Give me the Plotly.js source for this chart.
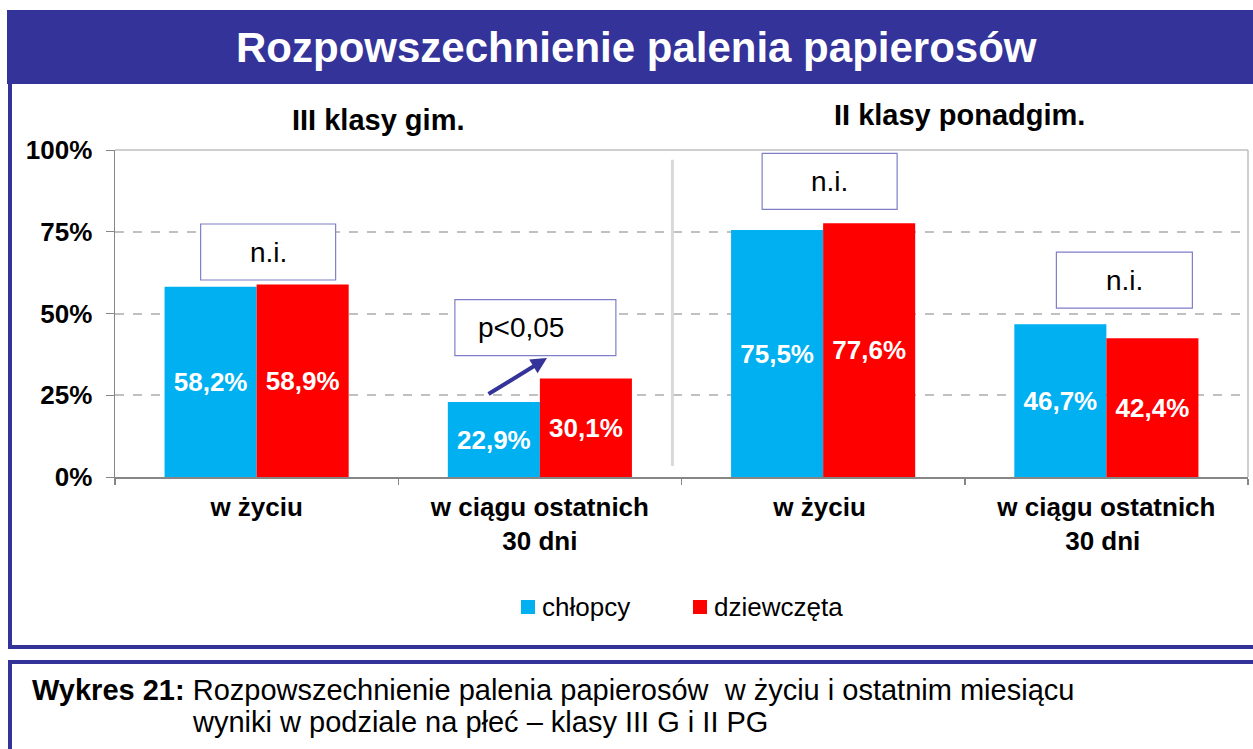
<!DOCTYPE html>
<html><head><meta charset="utf-8">
<script src="https://cdn.plot.ly/plotly-3.0.1.min.js"></script>
<style>html,body{margin:0;padding:0;background:#fff}#c{width:1253px;height:749px}</style>
</head><body><div id="c"></div>
<script>
const categories = ['w życiu', 'w ciągu ostatnich<br>30 dni', 'w życiu ', 'w ciągu ostatnich<br>30 dni '];
const boys = [58.2, 22.9, 75.5, 46.7];
const girls = [58.9, 30.1, 77.6, 42.4];
const seriesNames = ['chłopcy', 'dziewczęta'];
const seriesColors = ['#00b0f0', '#ff0000'];
const yTicks = [0, 25, 50, 75, 100];
const boxLabels = ['n.i.', 'p<0,05', 'n.i.', 'n.i.'];
const boxY = [68.8, 45.7, 90.4, 60.2];

const W = 1253, H = 749;
const px = x => x / W, py = y => (H - y) / H;
const FONT = 'Liberation Sans, Arial, sans-serif';
const NAVY = '#333399';

const traces = [boys, girls].map((vals, i) => ({
  type:'bar', name: seriesNames[i], x: categories, y: vals, marker:{color: seriesColors[i]},
  texttemplate:'%{y:.1f}%', textposition:'inside', insidetextanchor:'middle',
  textfont:{color:'#fff', size:26, family:FONT, weight:'bold'}, constraintext:'none', hoverinfo:'skip',
  showlegend:false
}));

// box geometry in pixels relative to the category centre / box value
const boxX0 = [-56, -85, -61, -50];
const boxX1 = [79, 76, 74, 86];
const textShift = [12, -19, 6, 18];

const annotations = [
  {xref:'paper', yref:'paper', x:px(636), y:py(48), text:'<b>Rozpowszechnienie palenia papierosów</b>', showarrow:false,
   font:{family:FONT, size:42, color:'#fff'}, xanchor:'center', yanchor:'middle'},
  {xref:'paper', yref:'paper', x:px(378), y:py(120), text:'<b>III klasy gim.</b>', showarrow:false,
   font:{family:FONT, size:29, color:'#000'}, xanchor:'center', yanchor:'middle'},
  {xref:'paper', yref:'paper', x:px(959), y:py(115), text:'<b>II klasy ponadgim.</b>', showarrow:false,
   font:{family:FONT, size:29, color:'#000'}, xanchor:'center', yanchor:'middle'},
  {xref:'paper', yref:'paper', x:px(547), y:py(358), ax:-60, ay:37, text:'', showarrow:true,
   arrowcolor:NAVY, arrowwidth:4, arrowhead:2, arrowsize:0.8},
  {xref:'paper', yref:'paper', x:px(30), y:py(690), text:'<b>Wykres 21:</b> Rozpowszechnienie palenia papierosów  w życiu i ostatnim miesiącu', showarrow:false,
   font:{family:FONT, size:29, color:'#000'}, xanchor:'left', yanchor:'middle'},
  {xref:'paper', yref:'paper', x:px(190), y:py(722), text:'wyniki w podziale na płeć – klasy III G i II PG', showarrow:false,
   font:{family:FONT, size:29, color:'#000'}, xanchor:'left', yanchor:'middle'}
];
const shapes = [];
categories.forEach((c, i) => {
  shapes.push({type:'rect', xref:'x', yref:'y', xsizemode:'pixel', ysizemode:'pixel',
    xanchor:i, yanchor:boxY[i], x0:boxX0[i], x1:boxX1[i], y0:-28, y1:28,
    fillcolor:'#fff', line:{color:'#7f7fc8', width:1.2}});
  annotations.push({xref:'x', yref:'y', x:c, y:boxY[i], xshift:textShift[i], text:boxLabels[i], showarrow:false,
    font:{family:FONT, size:28, color:'#000'}, xanchor:'center', yanchor:'middle'});
});

// legend (manual, from series names/colours)
const legendItems = [{sq:521, tx:540}, {sq:693, tx:712}];
legendItems.forEach((it, i) => {
  shapes.push({type:'rect', xref:'paper', yref:'paper', x0:px(it.sq), x1:px(it.sq+14), y0:py(614), y1:py(600),
    fillcolor:seriesColors[i], line:{width:0}});
  annotations.push({xref:'paper', yref:'paper', x:px(it.tx), y:py(607), text:seriesNames[i], showarrow:false,
    font:{family:FONT, size:26, color:'#000'}, xanchor:'left', yanchor:'middle'});
});

shapes.push(
  {type:'rect', xref:'paper', yref:'paper', x0:px(7), x1:1, y0:py(84), y1:py(10), fillcolor:NAVY, line:{width:0}, layer:'below'},
  {type:'line', xref:'paper', yref:'paper', x0:px(10), x1:px(10), y0:py(84), y1:py(647), line:{color:NAVY, width:4}},
  {type:'line', xref:'paper', yref:'paper', x0:px(8), x1:1, y0:py(647), y1:py(647), line:{color:NAVY, width:4}},
  {type:'line', xref:'paper', yref:'paper', x0:px(8), x1:1, y0:py(662), y1:py(662), line:{color:NAVY, width:4}},
  {type:'line', xref:'paper', yref:'paper', x0:px(10), x1:px(10), y0:py(662), y1:py(749), line:{color:NAVY, width:4}},
  {type:'line', xref:'x domain', yref:'y domain', x0:0, x1:1, y0:1, y1:1, line:{color:'#bfbfbf', width:1.5}},
  {type:'line', xref:'x domain', yref:'y domain', x0:1, x1:1, y0:0, y1:1, line:{color:'#bfbfbf', width:1.5}},
  {type:'line', xref:'x', yref:'y', x0:1.468, x1:1.468, y0:3.4, y1:97, line:{color:'#d9d9d9', width:3}}
);

const layout = {
  width:W, height:H, margin:{l:0, r:0, t:0, b:0}, paper_bgcolor:'#fff', plot_bgcolor:'#fff',
  separators:', ', barmode:'group', bargap:0.35, bargroupgap:0,
  font:{family:FONT, color:'#000'},
  xaxis:{domain:[px(115), px(1248)], type:'category', showline:true, linecolor:'#868686', linewidth:2,
    ticks:'outside', tickson:'boundaries', ticklen:6, tickcolor:'#868686', tickwidth:1.5, ticklabelstandoff:6,
    tickfont:{family:FONT, size:26, color:'#000', weight:'bold'}, showgrid:false, fixedrange:true},
  yaxis:{domain:[py(477), py(150)], range:[0,100], tickvals:yTicks, ticktext:yTicks.map(v=>'<b>'+v+'%</b>'),
    showline:true, linecolor:'#868686', linewidth:1.5, ticks:'outside', ticklen:8, tickcolor:'#868686',
    ticklabelstandoff:8,
    tickfont:{family:FONT, size:26, color:'#000'}, showgrid:true, gridcolor:'#c0c0c0', gridwidth:2, griddash:'dash',
    zeroline:false, fixedrange:true},
  showlegend:false,
  annotations, shapes
};

Plotly.newPlot('c', traces, layout, {displayModeBar:false, staticPlot:true});
</script></body></html>
